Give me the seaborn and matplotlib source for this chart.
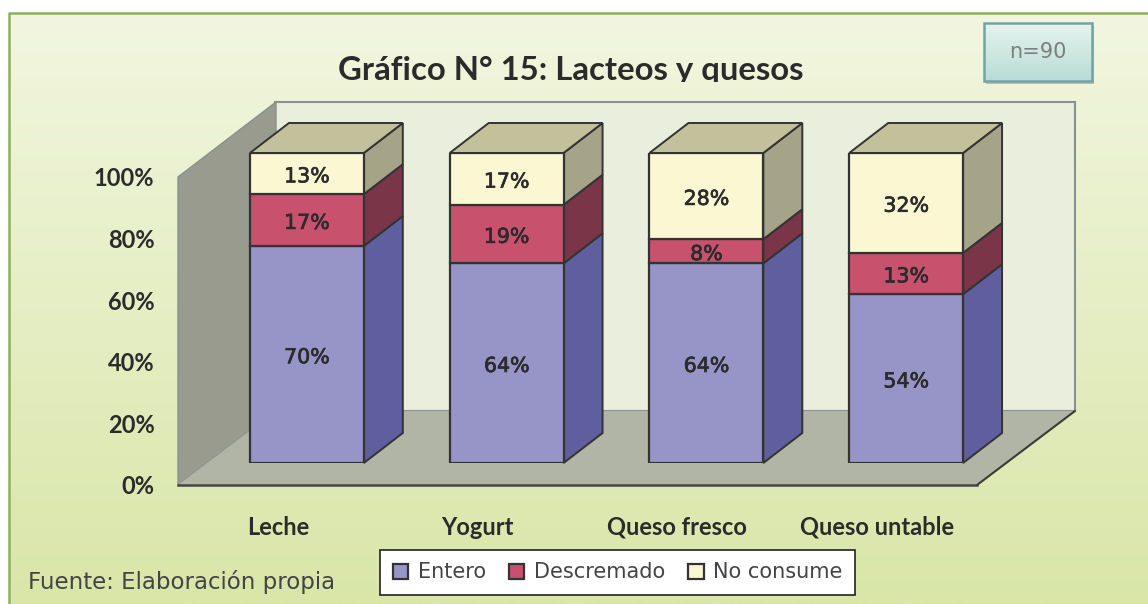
import numpy as np
import matplotlib
matplotlib.use("Agg")
import matplotlib.pyplot as plt
import matplotlib.patheffects as pe
import seaborn as sns
from matplotlib.patches import Polygon, Rectangle

# Datos (en %)
categorias = ["Leche", "Yogurt", "Queso fresco", "Queso untable"]
series = ["Entero", "Descremado", "No consume"]
entero = [70.0, 64.4, 64.4, 54.4]
descremado = [16.7, 18.9, 7.8, 13.3]
no_consume = [13.3, 16.7, 27.8, 32.2]
ticks_y = [0, 20, 40, 60, 80, 100]

W, H = 1148, 604
frente = ["#9794c8", "#c8526e", "#fbf7d2"]
lateral = ["#5f5e9e", "#7b3548", "#a5a488"]
color_tope = "#c3c19b"
borde = "#333333"
texto = "#2b2b2b"

sns.set_theme(style="white")
plt.rcParams["font.family"] = ["DejaVu Sans"]

fig = plt.figure(figsize=(W / 100, H / 100), dpi=100, facecolor="white")


def ejes_px(x0, y0, x1, y1):
    # ejes ubicados en pixeles de la imagen (y hacia abajo)
    a = fig.add_axes([x0 / W, 1 - y1 / H, (x1 - x0) / W, (y1 - y0) / H])
    a.patch.set_alpha(0)
    return a


# Fondo, paredes y piso
bg = ejes_px(0, 0, W, H)
bg.set_axis_off()

c_arriba = np.array([0xf2, 0xf6, 0xe0]) / 255
c_abajo = np.array([0xd9, 0xe6, 0xa8]) / 255
img = np.linspace(0, 1, 256)[:, None, None] * (c_abajo - c_arriba) + c_arriba
bg.imshow(img, extent=[9, W, H, 13], aspect="auto", zorder=0)
bg.plot([9, 9, W], [H, 13, 13], color="#8fb05a", lw=1.8, zorder=1)

bg.add_patch(Polygon([(275, 102), (1075, 102), (1075, 411), (275, 411)], fc="#e9efdc", ec="#8a9090", lw=1.5, zorder=2))
bg.add_patch(Polygon([(178, 485), (178, 177), (276, 102), (276, 411)], fc="#989b8e", ec="#8a9090", lw=1, zorder=3))
bg.add_patch(Polygon([(178, 485), (276, 411), (1075, 411), (977, 485)], fc="#b0b5a5", ec="none", zorder=3))
bg.plot([977, 1075], [485, 411], color="#3a3a3a", lw=1.5, zorder=4)

# Recuadro n=90 con su sombra
bg.add_patch(Rectangle((986, 26), 108, 58, fc="#8f9f8f", ec="none", alpha=0.6, zorder=2))
c1 = np.array([0xe6, 0xf3, 0xee]) / 255
c2 = np.array([0xb9, 0xdc, 0xd6]) / 255
caja = np.linspace(0, 1, 64)[:, None, None] * (c2 - c1) + c1
bg.imshow(caja, extent=[984, 1092, 81, 23], aspect="auto", zorder=3)
bg.add_patch(Rectangle((984, 23), 108, 58, fc="none", ec="#6fa5a5", lw=1.8, zorder=4))
bg.text(1038, 52, "n=90", ha="center", va="center", fontsize=15, color="#7a7f80", zorder=5)
bg.set_xlim(0, W)
bg.set_ylim(H, 0)

titulo = bg.text(571, 70, "Gráfico N° 15: Lacteos y quesos", ha="center", va="center",
                 fontsize=23.7, family="Lato", fontweight="bold", color=texto, zorder=5)
titulo.set_clip_path(Rectangle((300, 40), 600, 42, transform=bg.transData))
titulo.set_clip_on(True)

bg.text(28, 582, "Fuente: Elaboración propia", ha="left", va="center", fontsize=16.5, color="#444444", zorder=5)

# Eje frontal: solo rotulos y linea base
ax_frente = ejes_px(178, 177, 977, 485)
ax_frente.set_xlim(-0.5, 3.5)
ax_frente.set_ylim(0, 100)
ax_frente.set_xticks(range(len(categorias)), categorias)
ax_frente.set_yticks(ticks_y, [f"{t}%" for t in ticks_y])
ax_frente.tick_params(axis="both", length=0, labelsize=17, labelcolor=texto)
ax_frente.tick_params(axis="x", pad=22)
ax_frente.tick_params(axis="y", pad=17)
for lab in ax_frente.get_xticklabels() + ax_frente.get_yticklabels():
    lab.set_family("Lato")
    lab.set_fontweight("bold")
sns.despine(ax=ax_frente, left=True)
ax_frente.spines["bottom"].set_color("#444444")
ax_frente.spines["bottom"].set_linewidth(1.8)

# Barras apiladas al 100 %
ax = ejes_px(207, 153, 1006, 463)
valores = [np.array(entero), np.array(descremado), np.array(no_consume)]
total = sum(valores)
ancho = 0.57
prof_x = 39 / 199.75
prof_y = 30 / 3.1

base = np.zeros(len(categorias))
barras = []
for nombre, val, c_f, c_l in zip(series, valores, frente, lateral):
    alto = val / total * 100
    sns.barplot(x=categorias, y=alto, bottom=base, width=ancho, color=c_f, saturation=1,
                edgecolor=borde, linewidth=1.6, ax=ax, zorder=3)
    for i in range(len(categorias)):
        xd = i + ancho / 2
        ax.add_patch(Polygon([(xd, base[i]), (xd + prof_x, base[i] + prof_y),
                              (xd + prof_x, base[i] + alto[i] + prof_y), (xd, base[i] + alto[i])],
                             fc=c_l, ec=borde, lw=1.4, clip_on=False, zorder=2))
        ax.annotate(f"{val[i]:.0f}%", (i, base[i] + alto[i] / 2), xytext=(0, -2), textcoords="offset points",
                    ha="center", va="center", fontsize=14.8, color=texto, zorder=5,
                    path_effects=[pe.withStroke(linewidth=0.5, foreground=texto)])
    barras.append(Rectangle((0, 0), 1, 1, fc=c_f, ec=borde, lw=1.6))
    base = base + alto

for i in range(len(categorias)):
    xi, xd = i - ancho / 2, i + ancho / 2
    ax.add_patch(Polygon([(xi, 100), (xi + prof_x, 100 + prof_y), (xd + prof_x, 100 + prof_y), (xd, 100)],
                         fc=color_tope, ec=borde, lw=1.4, clip_on=False, zorder=2))

ax.set_xlim(-0.5, 3.5)
ax.set_ylim(0, 100)
ax.set_axis_off()

# Leyenda
ley = fig.legend(barras, series, ncol=3, loc="center", mode="expand",
                 bbox_to_anchor=(380 / W, 1 - 595 / H, 475 / W, 45 / H),
                 frameon=True, fancybox=False, framealpha=1, edgecolor="#222222", facecolor="white",
                 fontsize=15, labelcolor="#444444", handlelength=0.75, handleheight=0.75, handletextpad=0.45,
                 columnspacing=1.0, borderpad=0.6, borderaxespad=0)
ley.get_frame().set_linewidth(1.2)

fig.savefig("out.png", dpi=100)
